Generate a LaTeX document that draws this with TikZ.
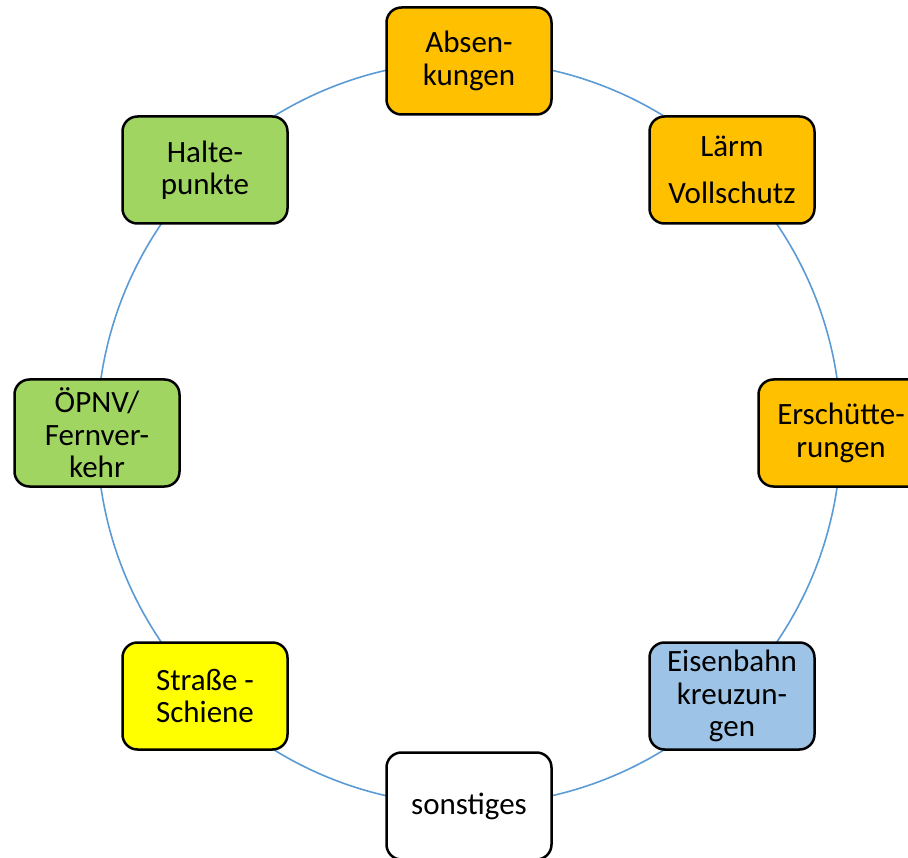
\documentclass[tikz,border=0pt]{standalone}
\usepackage{fontspec}
\setmainfont{Carlito}
\definecolor{boxorange}{RGB}{255,192,0}
\definecolor{boxgreen}{RGB}{160,213,98}
\definecolor{boxblue}{RGB}{157,195,230}
\definecolor{boxyellow}{RGB}{255,255,0}
\definecolor{ringblue}{RGB}{91,155,213}
\tikzset{
  stepbox/.style={draw=black, line width=2.5pt, rounded corners=15pt,
    minimum width=165pt, minimum height=107pt, inner sep=0pt,
    align=center, font=\fontsize{31}{32.5}\selectfont},
  ring/.style={draw=ringblue, line width=1.6pt}
}
\begin{document}
\begin{tikzpicture}[x=1pt,y=-1pt]
\useasboundingbox (0,0) rectangle (908,858);
\coordinate (c) at (469,433);
\draw[ring] (c) circle[radius=372pt];
\node[stepbox, fill=boxorange] (abs) at (469,61) {Absen-\\kungen};
\node[stepbox, fill=boxorange] (laerm) at (732,170) {Lärm\\[14pt]Vollschutz};
\node[stepbox, fill=boxorange] (ersch) at (841,433) {Erschütte-\\rungen};
\node[stepbox, fill=boxblue] (eisen) at (732,696) {Eisenbahn\\kreuzun-\\gen};
\node[stepbox, fill=white] (sonst) at (469,806) {sonstiges};
\node[stepbox, fill=boxyellow] (strasse) at (205,696) {Straße -\\Schiene};
\node[stepbox, fill=boxgreen] (oepnv) at (97,433) {ÖPNV/\\Fernver-\\kehr};
\node[stepbox, fill=boxgreen] (halte) at (205,170) {Halte-\\punkte};
\end{tikzpicture}
\end{document}
